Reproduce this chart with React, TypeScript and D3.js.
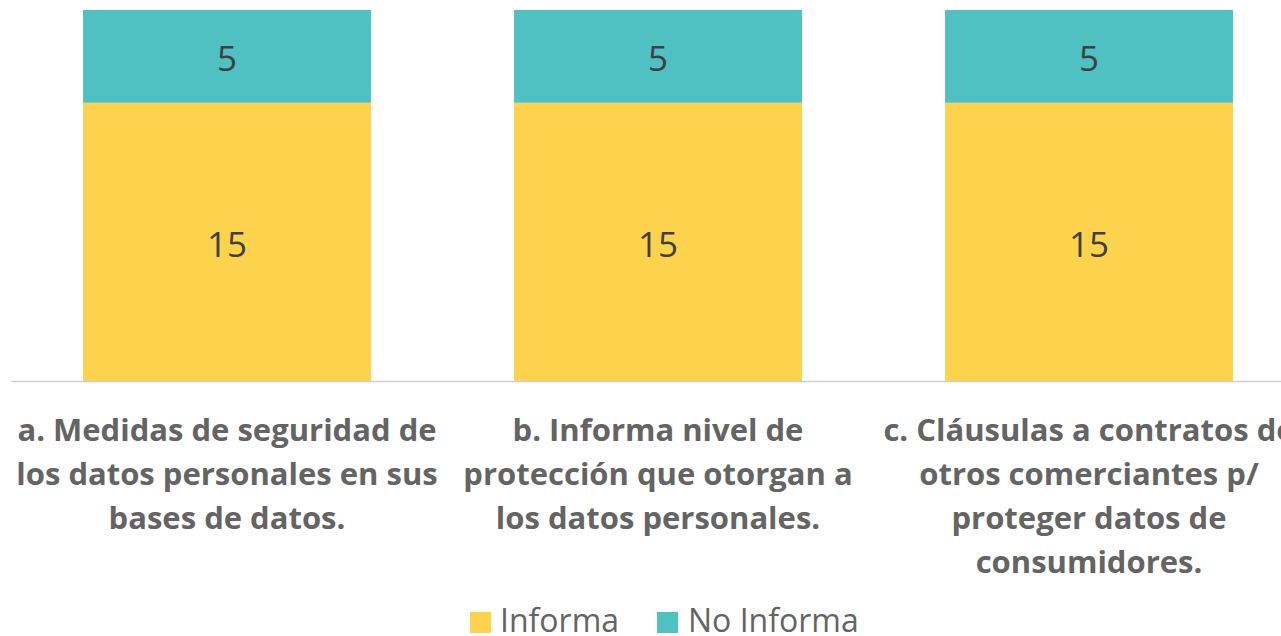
import React from "react";
import * as d3 from "d3";

const categories = ["a", "b", "c"];
const categoryLabels: string[][] = [
  ["a. Medidas de seguridad de", "los datos personales en sus", "bases de datos."],
  ["b. Informa nivel de", "protección que otorgan a", "los datos personales."],
  ["c. Cláusulas a contratos de", "otros comerciantes p/", "proteger datos de", "consumidores."],
];
const informa = [15, 15, 15];
const noInforma = [5, 5, 5];
const seriesNames = ["Informa", "No Informa"];
const seriesColors = ["#FDD34D", "#4FC1C3"];

const W = 1281;
const H = 636;

export default function App() {
  const x = d3
    .scaleBand<string>()
    .domain(categories)
    .range([11.5, 1304.5])
    .paddingInner(0.332)
    .paddingOuter(0.166);
  const y = d3.scaleLinear().domain([0, 20]).range([381, 10]);

  const rows = categories.map((c, i) => ({ cat: c, Informa: informa[i], "No Informa": noInforma[i] }));
  const stack = d3.stack<any>().keys(seriesNames);
  const layers = stack(rows);

  const font = "'Open Sans', 'DejaVu Sans', sans-serif";

  const legendItems = [
    { name: seriesNames[0], color: seriesColors[0], sx: 470, tx: 500 },
    { name: seriesNames[1], color: seriesColors[1], sx: 657, tx: 688 },
  ];

  return (
    <svg
      width={W}
      height={H}
      style={{ position: "absolute", left: 0, top: 0, background: "#fff" }}
      fontFamily={font}
    >
      {layers.map((layer, li) => (
        <g key={layer.key}>
          {layer.map((d, i) => {
            const x0 = x(categories[i])!;
            const yTop = y(d[1]);
            const yBot = y(d[0]);
            return (
              <g key={i}>
                <rect x={x0} y={yTop} width={x.bandwidth()} height={yBot - yTop} fill={seriesColors[li]} />
                <text
                  x={x0 + x.bandwidth() / 2}
                  y={(yTop + yBot) / 2 + 15}
                  textAnchor="middle"
                  fontSize={35}
                  fill="#404040"
                >
                  {d[1] - d[0]}
                </text>
              </g>
            );
          })}
        </g>
      ))}
      <line x1={x.range()[0]} x2={x.range()[1]} y1={381.5} y2={381.5} stroke="#d0d0d0" strokeWidth={1.5} />
      {categories.map((c, i) => (
        <text
          key={c}
          x={x(c)! + x.bandwidth() / 2}
          textAnchor="middle"
          fontSize={31}
          fontWeight="bold"
          fill="#646464"
        >
          {categoryLabels[i].map((line, j) => (
            <tspan key={j} x={x(c)! + x.bandwidth() / 2} y={441 + j * 44}>
              {line}
            </tspan>
          ))}
        </text>
      ))}
      {legendItems.map((it) => (
        <g key={it.name}>
          <rect x={it.sx} y={612} width={21} height={21} fill={it.color} />
          <text x={it.tx} y={632} fontSize={32} fill="#646464">
            {it.name}
          </text>
        </g>
      ))}
    </svg>
  );
}
